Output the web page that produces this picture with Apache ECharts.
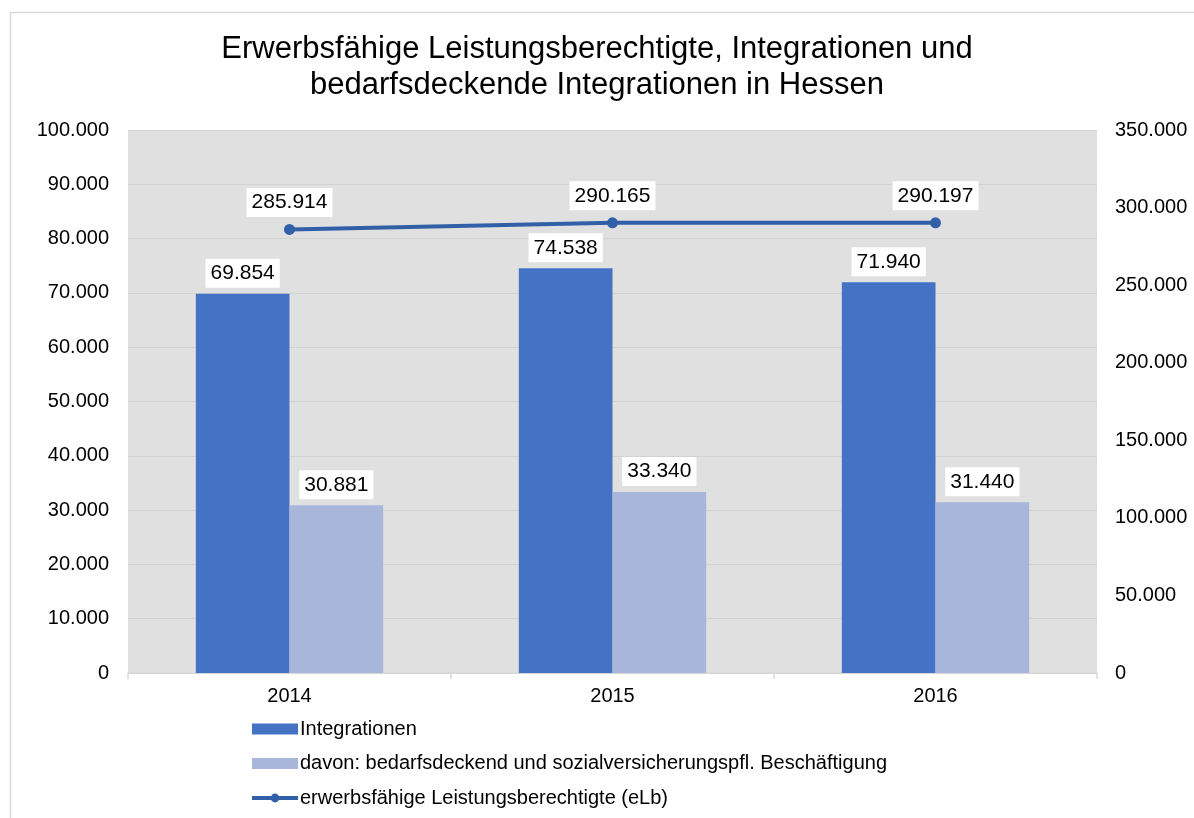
<!DOCTYPE html>
<html>
<head>
<meta charset="utf-8">
<script src="https://cdn.jsdelivr.net/npm/echarts@6/dist/echarts.min.js"></script>
<style>
  html, body { margin: 0; padding: 0; background: #fff; }
  #chart { width: 1194px; height: 818px; }
</style>
</head>
<body>
<div id="chart"></div>
<script>
// Daten
const years = ['2014', '2015', '2016']
const integrationen = [69854, 74538, 71940]
const bedarfsdeckend = [30881, 33340, 31440]
const elb = [285914, 290165, 290197]

const font = '"Liberation Sans", Arial, sans-serif'
// Tausenderpunkt wie im Original
const fmt = (v) => String(v).replace(/\B(?=(\d{3})+(?!\d))/g, '.')

const labelBox = {
  show: true,
  fontFamily: font,
  fontSize: 21,
  color: '#000',
  backgroundColor: '#fff',
  padding: [4, 5, 4, 5],
  formatter: (p) => fmt(p.value),
}

const chart = echarts.init(document.getElementById('chart'))
chart.setOption({
  animation: false,
  title: {
    text: 'Erwerbsfähige Leistungsberechtigte, Integrationen und\nbedarfsdeckende Integrationen in Hessen',
    left: 'center',
    top: 26,
    textStyle: {
      fontFamily: font,
      fontSize: 31,
      fontWeight: 'normal',
      color: '#000',
      lineHeight: 36,
    },
  },
  graphic: [
    {
      type: 'rect',
      shape: { x: 10.5, y: 12.5, width: 1300, height: 900 },
      style: { fill: 'none', stroke: '#d9d9d9', lineWidth: 1.5 },
      silent: true,
    },
  ],
  grid: {
    left: 128,
    right: 97,
    top: 130,
    bottom: 145,
    show: true,
    backgroundColor: '#e0e0e0',
    borderWidth: 0,
  },
  legend: {
    orient: 'vertical',
    left: 245,
    top: 713,
    itemWidth: 46,
    itemHeight: 11,
    itemGap: 12.5,
    textStyle: { fontFamily: font, fontSize: 20, color: '#000', lineHeight: 22, padding: [0, 0, 0, -3] },
    data: [
      { name: 'Integrationen', icon: 'rect' },
      { name: 'davon: bedarfsdeckend und sozialversicherungspfl. Beschäftigung', icon: 'rect' },
      { name: 'erwerbsfähige Leistungsberechtigte (eLb)', lineStyle: { width: 4 } },
    ],
  },
  xAxis: {
    type: 'category',
    data: years,
    axisLine: { lineStyle: { color: '#d9d9d9', width: 1.5 } },
    axisTick: { show: true, length: 6, lineStyle: { color: '#d9d9d9', width: 1.5 } },
    axisLabel: { fontFamily: font, fontSize: 20, color: '#000', margin: 13 },
  },
  yAxis: [
    {
      type: 'value',
      min: 0,
      max: 100000,
      interval: 10000,
      axisLine: { show: false },
      axisTick: { show: false },
      splitLine: { lineStyle: { color: '#d2d2d2', width: 1 } },
      axisLabel: { fontFamily: font, fontSize: 20, color: '#000', margin: 19, formatter: fmt },
    },
    {
      type: 'value',
      min: 0,
      max: 350000,
      interval: 50000,
      axisLine: { show: false },
      axisTick: { show: false },
      splitLine: { show: false },
      axisLabel: { fontFamily: font, fontSize: 20, color: '#000', margin: 18, formatter: fmt },
    },
  ],
  series: [
    {
      name: 'Integrationen',
      type: 'bar',
      data: integrationen,
      barGap: '0%',
      barCategoryGap: '42%',
      itemStyle: { color: '#4472c4' },
      label: { ...labelBox, position: 'top', distance: 6 },
    },
    {
      name: 'davon: bedarfsdeckend und sozialversicherungspfl. Beschäftigung',
      type: 'bar',
      data: bedarfsdeckend,
      itemStyle: { color: '#a9b6db' },
      label: { ...labelBox, position: 'top', distance: 6 },
    },
    {
      name: 'erwerbsfähige Leistungsberechtigte (eLb)',
      type: 'line',
      yAxisIndex: 1,
      data: elb,
      symbol: 'circle',
      symbolSize: 11,
      lineStyle: { color: '#3160a8', width: 4 },
      itemStyle: { color: '#3160a8' },
      label: { ...labelBox, position: 'top', distance: 7 },
    },
  ],
})
</script>
</body>
</html>
